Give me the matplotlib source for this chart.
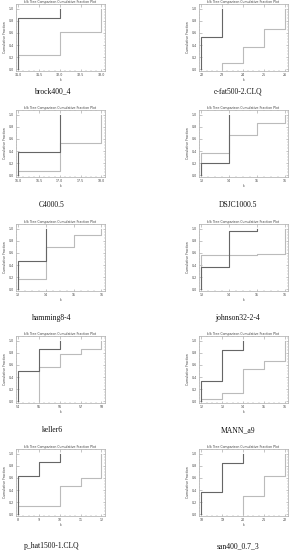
import numpy as np
import matplotlib
matplotlib.use("Agg")
import matplotlib.pyplot as plt
from matplotlib.ticker import AutoMinorLocator

# instance names (captions)
names = ['brock400_4', 'c-fat500-2.CLQ', 'C4000.5', 'DSJC1000.5', 'hamming8-4',
         'johnson32-2-4', 'keller6', 'MANN_a9', 'p_hat1500-1.CLQ', 'san400_0.7_3']

# x ticks shown for each panel
ticks = [
    [31.0, 31.5, 32.0, 32.5, 33.0],
    [22, 23, 24, 25, 26],
    [16.0, 16.5, 17.0, 17.5, 18.0],
    [13, 14, 15, 16],
    [13, 14, 15, 16],
    [13, 14, 15, 16],
    [54, 55, 56, 57, 58],
    [12, 13, 14, 15, 16],
    [8, 9, 10, 11, 12],
    [18, 19, 20, 21, 22],
]

# dark series: k values and cumulative fraction
dark_k = [[31, 32], [22, 23], [16, 17], [13, 14], [13, 14],
          [13, 14, 15], [54, 55, 56], [12, 13, 14], [8, 9, 10], [18, 19, 20]]
dark_f = [[0.84, 1.0], [0.53, 1.0], [0.39, 1.0], [0.20, 1.0], [0.46, 1.0],
          [0.37, 0.96, 1.0], [0.50, 0.87, 1.0], [0.34, 0.84, 1.0], [0.64, 0.87, 1.0], [0.36, 0.84, 1.0]]

# light series
light_k = [[31, 32, 33], [23, 24, 25, 26], [16, 17, 18], [13, 14, 15, 16], [13, 14, 15, 16],
           [13, 14, 15, 16], [55, 56, 57, 58], [12, 13, 14, 15, 16], [8, 10, 11, 12], [20, 21, 22]]
light_f = [[0.24, 0.61, 1.0], [0.11, 0.37, 0.66, 1.0], [0.065, 0.53, 1.0], [0.36, 0.66, 0.86, 1.0],
           [0.17, 0.70, 0.89, 1.0], [0.56, 0.57, 0.59, 1.0], [0.565, 0.79, 0.87, 1.0],
           [0.04, 0.135, 0.53, 0.66, 1.0], [0.135, 0.47, 0.60, 1.0], [0.30, 0.64, 1.0]]

W, H = 293, 550
fig = plt.figure(figsize=(W / 100, H / 100), dpi=100)

col_left = [15.7, 199]
col_width = 89
row_top = [4, 110, 224, 336, 449]
ax_height = 67
caption_y = [91, 205, 318, 430, 546]
caption_x = [52, 238]

for i in range(10):
    r, c = i // 2, i % 2
    ax = fig.add_axes([col_left[c] / W, 1 - (row_top[r] + ax_height) / H,
                       col_width / W, ax_height / H])
    t = ticks[i]
    span = t[-1] - t[0]
    ax.set_xlim(t[0] - 0.03 * span, t[-1] + 0.04 * span)
    ax.set_ylim(-0.03, 1.08)
    ax.set_xticks(t)
    ax.set_yticks([0, 0.2, 0.4, 0.6, 0.8, 1.0])
    ax.xaxis.set_minor_locator(AutoMinorLocator(4))
    ax.yaxis.set_minor_locator(AutoMinorLocator(4))
    ax.tick_params(which='both', direction='in', top=True, right=True,
                   color='#999999', labelsize=2.3, labelcolor='#444444', pad=1.5)
    ax.tick_params(which='major', length=1.8, width=0.4)
    ax.tick_params(which='minor', length=1.0, width=0.3)
    for s in ax.spines.values():
        s.set_color('#aaaaaa')
        s.set_linewidth(0.5)

    lk, lf = light_k[i], light_f[i]
    ax.step([lk[0]] + lk, [0] + lf, where='post', color='#bbbbbb', lw=0.8)
    dk, df = dark_k[i], dark_f[i]
    ax.step([dk[0]] + dk, [0] + df, where='post', color='#666666', lw=0.8)

    ax.set_title('k/k Tree Comparison Cumulative Fraction Plot', fontsize=2.3,
                 color='#444444', pad=1)
    ax.set_xlabel('k', fontsize=2.3, color='#444444', labelpad=1)
    ax.set_ylabel('Cumulative Fraction', fontsize=2.3, color='#444444', labelpad=1)

    fig.text(caption_x[c] / W, 1 - caption_y[r] / H, names[i], ha='center', va='center',
             fontsize=5.5, family='Liberation Serif', color='#111111')

fig.savefig('out.png', dpi=100)
